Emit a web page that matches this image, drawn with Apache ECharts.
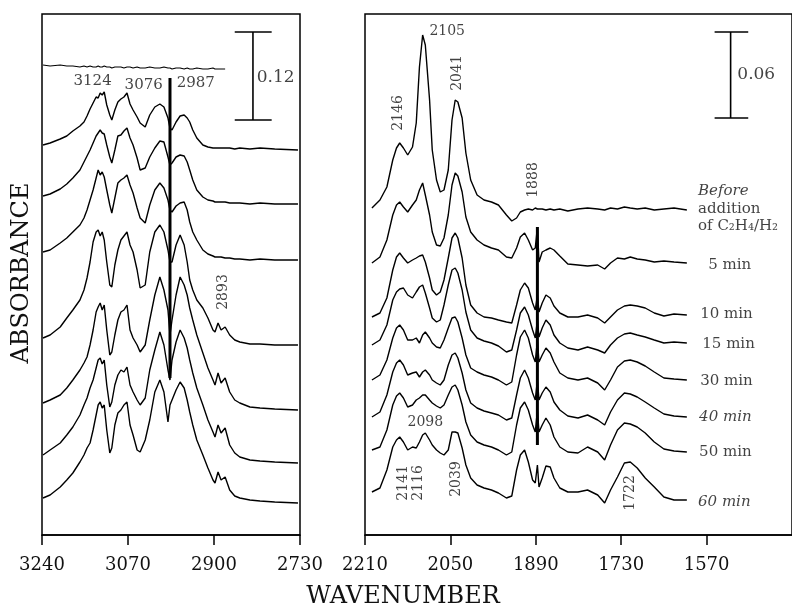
<!DOCTYPE html>
<html>
<head>
<meta charset="utf-8">
<script src="https://cdn.jsdelivr.net/npm/echarts@6/dist/echarts.min.js"></script>
<style>
html, body { margin: 0; padding: 0; background: #fff; }
#chart { width: 792px; height: 609px; }
</style>
</head>
<body>
<div id="chart"></div>
<script>
// C-H stretch region (left panel), cm-1
const wnLeft = [3238, 3224, 3204, 3191, 3179, 3165, 3157, 3151, 3145, 3139, 3133, 3129, 3125, 3121, 3117, 3112, 3106, 3102, 3096, 3090, 3084, 3078, 3072, 3066, 3060, 3052, 3046, 3036, 3027, 3017, 3007, 2999, 2991, 2987, 2983, 2975, 2967, 2959, 2953, 2948, 2942, 2934, 2922, 2912, 2902, 2898, 2892, 2886, 2878, 2869, 2859, 2849, 2829, 2809, 2780, 2734]

// absorbance, arbitrary units, stacked (0.12 = 88 units)
const leftBefore = [470, 469, 470, 469, 469, 468, 469, 468, 469, 468, 468, 469, 468, 468, 469, 468, 468, 467, 468, 468, 468, 467, 468, 468, 467, 468, 467, 467, 468, 467, 467, 468, 467, 467, 466, 467, 467, 466, 467, 466, 466, 467, 466, 466, 467, 466, 466, 466, 466, null, null, null, null, null, null, null]
const left5 = [390, 392, 396, 399, 404, 409, 413, 419, 426, 432, 438, 437, 442, 440, 443, 430, 420, 415, 425, 433, 436, 438, 442, 431, 425, 418, 412, 408, 420, 428, 431, 428, 417, 407, 405, 413, 419, 420, 417, 413, 405, 397, 390, 388, 387, 387, 387, 387, 387, 387, 386, 387, 386, 387, 386, 385]
const left10 = [339, 341, 346, 351, 357, 365, 373, 379, 385, 392, 399, 402, 405, 402, 401, 390, 378, 372, 385, 399, 400, 404, 407, 397, 390, 377, 365, 367, 378, 387, 394, 393, 378, 370, 372, 378, 380, 379, 373, 365, 355, 345, 338, 335, 334, 333, 333, 333, 333, 332, 332, 332, 331, 332, 331, 331]
const left15 = [283, 285, 292, 297, 303, 310, 317, 325, 335, 345, 357, 365, 360, 363, 358, 345, 330, 322, 337, 352, 355, 357, 360, 350, 342, 327, 317, 312, 330, 345, 352, 347, 335, 325, 323, 329, 332, 333, 325, 313, 303, 295, 285, 281, 279, 278, 278, 278, 277, 277, 276, 276, 275, 276, 275, 275]
const left30 = [197, 200, 208, 217, 225, 235, 245, 257, 273, 293, 303, 305, 299, 303, 295, 273, 250, 248, 270, 285, 295, 299, 303, 290, 283, 265, 247, 250, 283, 303, 310, 303, 285, 273, 273, 290, 300, 290, 273, 255, 245, 235, 227, 217, 205, 203, 212, 205, 208, 200, 195, 193, 191, 191, 190, 190]
const left40 = [132, 135, 140, 147, 155, 165, 172, 178, 190, 205, 223, 228, 232, 225, 230, 205, 180, 183, 200, 215, 223, 225, 230, 205, 197, 190, 183, 190, 215, 240, 258, 245, 225, 200, 215, 240, 258, 250, 240, 227, 215, 200, 182, 167, 155, 150, 162, 152, 157, 143, 135, 132, 128, 127, 126, 125]
const left50 = [80, 85, 92, 100, 108, 120, 130, 137, 147, 155, 167, 175, 177, 171, 175, 150, 128, 133, 150, 160, 165, 163, 168, 150, 143, 135, 130, 137, 165, 185, 203, 190, 165, 155, 175, 193, 205, 197, 187, 175, 162, 147, 130, 115, 103, 98, 110, 102, 107, 90, 82, 78, 75, 74, 73, 72]
const left60 = [37, 40, 48, 55, 62, 73, 80, 87, 92, 105, 120, 130, 133, 127, 130, 105, 82, 87, 110, 122, 125, 130, 133, 110, 100, 85, 83, 95, 115, 143, 155, 143, 113, 130, 135, 145, 153, 147, 135, 123, 110, 95, 80, 67, 55, 52, 63, 55, 58, 45, 39, 37, 35, 34, 33, 32]

// carbonyl region (right panel), cm-1  (0.06 = 86 units)
const wnRight = [2197, 2182, 2169, 2158, 2151, 2145, 2138, 2130, 2121, 2114, 2108, 2102, 2097, 2089, 2084, 2076, 2069, 2062, 2054, 2047, 2041, 2036, 2028, 2021, 2012, 2000, 1987, 1973, 1960, 1945, 1935, 1926, 1919, 1911, 1904, 1896, 1891, 1887, 1884, 1878, 1871, 1863, 1856, 1845, 1830, 1811, 1793, 1774, 1761, 1750, 1737, 1724, 1713, 1700, 1685, 1668, 1650, 1631, 1607]

const rightBefore = [327, 335, 348, 375, 387, 392, 387, 380, 388, 412, 468, 500, 490, 435, 385, 355, 343, 345, 365, 415, 435, 433, 417, 382, 355, 340, 335, 333, 330, 320, 314, 317, 323, 325, 326, 325, 327, 326, 325, 326, 325, 326, 325, 326, 324, 326, 327, 326, 325, 327, 326, 328, 327, 326, 327, 325, 326, 327, 325]
const right5 = [272, 278, 295, 320, 330, 333, 328, 323, 330, 335, 345, 352, 340, 320, 303, 290, 289, 297, 320, 350, 362, 359, 343, 318, 303, 295, 290, 287, 285, 278, 277, 287, 298, 302, 295, 285, 287, 308, 273, 283, 285, 287, 285, 279, 271, 270, 269, 270, 266, 272, 277, 276, 278, 276, 275, 273, 274, 273, 272]
const right10 = [218, 222, 237, 265, 278, 282, 277, 272, 275, 277, 279, 280, 273, 257, 245, 240, 243, 255, 277, 297, 302, 297, 277, 250, 230, 222, 218, 217, 215, 213, 212, 230, 245, 252, 247, 232, 225, 240, 223, 232, 240, 237, 229, 222, 218, 218, 220, 217, 212, 218, 225, 229, 230, 229, 227, 222, 219, 221, 220]
const right15 = [190, 195, 210, 235, 243, 246, 247, 240, 237, 243, 248, 250, 242, 227, 217, 213, 215, 230, 250, 265, 267, 262, 245, 223, 205, 197, 194, 192, 189, 183, 185, 205, 222, 228, 220, 205, 197, 215, 198, 207, 215, 210, 200, 192, 187, 185, 188, 185, 182, 190, 197, 201, 202, 200, 198, 195, 192, 193, 192]
const right30 = [155, 160, 175, 197, 207, 210, 205, 195, 195, 197, 192, 200, 203, 197, 192, 188, 187, 195, 207, 217, 218, 213, 197, 180, 167, 163, 160, 158, 155, 150, 153, 180, 198, 205, 197, 180, 173, 195, 173, 180, 187, 182, 173, 162, 157, 155, 157, 152, 145, 155, 168, 174, 175, 173, 169, 163, 157, 156, 155]
const right40 = [118, 123, 140, 163, 172, 175, 170, 160, 162, 163, 158, 163, 165, 160, 155, 152, 150, 155, 170, 180, 182, 177, 162, 145, 132, 127, 124, 122, 120, 115, 117, 140, 157, 165, 157, 142, 135, 155, 135, 142, 148, 143, 133, 125, 119, 117, 120, 115, 110, 123, 135, 142, 141, 138, 133, 127, 121, 119, 118]
const right50 = [85, 88, 105, 130, 139, 142, 137, 128, 130, 135, 137, 140, 140, 135, 132, 129, 127, 130, 140, 148, 150, 145, 130, 113, 100, 93, 90, 88, 85, 80, 83, 110, 127, 133, 125, 110, 103, 125, 103, 110, 117, 110, 98, 88, 83, 82, 88, 83, 75, 90, 105, 112, 111, 108, 102, 93, 86, 84, 83]
const right60 = [43, 47, 65, 88, 95, 98, 93, 85, 88, 87, 93, 100, 102, 95, 90, 85, 82, 80, 85, 103, 103, 102, 87, 70, 57, 50, 47, 45, 42, 37, 39, 65, 80, 85, 73, 55, 52, 70, 48, 57, 69, 68, 57, 47, 43, 43, 45, 40, 32, 45, 58, 72, 73, 67, 57, 48, 38, 35, 35]

const leftTicks = [3240, 3070, 2900, 2730]
const rightTicks = [2210, 2050, 1890, 1730, 1570]
const timeLabels = ['5 min', '10 min', '15 min', '30 min', '40 min', '50 min', '60 min']

const font = 'DejaVu Serif'
const ink = '#000'

const pairs = (wn, vals) => wn.map((w, i) => [w, vals[i]])

function spectrum(idx, wn, vals, width) {
	return {
		type: 'line',
		xAxisIndex: idx,
		yAxisIndex: idx,
		data: pairs(wn, vals),
		showSymbol: false,
		silent: true,
		lineStyle: { color: ink, width: width || 1.4 },
	}
}

function segment(idx, pts, width) {
	return {
		type: 'line',
		xAxisIndex: idx,
		yAxisIndex: idx,
		data: pts,
		showSymbol: false,
		silent: true,
		lineStyle: { color: ink, width: width },
	}
}

// text annotations, placed in data coordinates [wavenumber, units]
function notes(idx, list) {
	return {
		type: 'scatter',
		xAxisIndex: idx,
		yAxisIndex: idx,
		symbolSize: 1,
		silent: true,
		itemStyle: { color: 'rgba(0,0,0,0)' },
		data: list.map((n) => ({
			value: [n.x, n.y],
			label: {
				show: true,
				formatter: n.text,
				position: n.pos || 'inside',
				distance: 0,
				rotate: n.rotate || 0,
				fontFamily: font,
				fontSize: n.size || 14,
				fontStyle: n.italic ? 'italic' : 'normal',
				color: '#111',
			},
		})),
	}
}

const leftNotes = [
	{ x: 3140, y: 454, text: '3124', size: 15 },
	{ x: 3039, y: 450, text: '3076', size: 15 },
	{ x: 2936, y: 452, text: '2987', size: 15 },
	{ x: 2882, y: 243, text: '2893', rotate: 90 },
	{ x: 2778, y: 457, text: '0.12', size: 17 },
]

const rightTimeY = [270, 221, 191, 154, 118, 83, 33]
const rightTimeX = [1568, 1583, 1579, 1583, 1585, 1585, 1587]
const rightNotes = [
	{ x: 2056, y: 504, text: '2105' },
	{ x: 2147, y: 422, text: '2146', rotate: 90 },
	{ x: 2037, y: 462, text: '2041', rotate: 90 },
	{ x: 1895, y: 355, text: '1888', rotate: 90 },
	{ x: 1477, y: 460, text: '0.06', size: 17 },
	{ x: 1587, y: 344, text: 'Before', pos: 'right', italic: true, size: 15 },
	{ x: 1587, y: 326, text: 'addition', pos: 'right', size: 15 },
	{ x: 1587, y: 309, text: 'of C₂H₄/H₂', pos: 'right', size: 15 },
	{ x: 2097, y: 113, text: '2098' },
	{ x: 2138, y: 52, text: '2141', rotate: 90 },
	{ x: 2110, y: 52, text: '2116', rotate: 90 },
	{ x: 2039, y: 56, text: '2039', rotate: 90 },
	{ x: 1713, y: 42, text: '1722', rotate: 90 },
].concat(timeLabels.map((t, i) => ({
	x: rightTimeX[i], y: rightTimeY[i], text: t, pos: 'right', size: 15,
	italic: t === '40 min' || t === '60 min',
})))

const series = []
;[leftBefore, left5, left10, left15, left30, left40, left50, left60].forEach((s) => {
	series.push(spectrum(0, wnLeft, s, s === leftBefore ? 1.1 : 1.4))
})
;[rightBefore, right5, right10, right15, right30, right40, right50, right60].forEach((s) => {
	series.push(spectrum(1, wnRight, s))
})

// band markers and scale bars
series.push(segment(0, [[2987, 457], [2987, 157]], 3))
series.push(segment(1, [[1887, 308], [1887, 90]], 3))
series.push(segment(0, [[2823, 503], [2823, 415]], 1.6))
series.push(segment(0, [[2859, 503], [2786, 503]], 1.6))
series.push(segment(0, [[2859, 415], [2786, 415]], 1.6))
series.push(segment(1, [[1525, 503], [1525, 417]], 1.6))
series.push(segment(1, [[1555, 503], [1492, 503]], 1.6))
series.push(segment(1, [[1555, 417], [1492, 417]], 1.6))
series.push(notes(0, leftNotes))
series.push(notes(1, rightNotes))

function xAxis(idx, min, max, ticks) {
	return {
		gridIndex: idx,
		type: 'value',
		min: min,
		max: max,
		inverse: true,
		splitLine: { show: false },
		axisLine: { show: true, onZero: false, lineStyle: { color: ink, width: 1.5 } },
		axisTick: { show: true, length: 10, customValues: ticks, lineStyle: { color: ink, width: 1.5 } },
		axisLabel: {
			customValues: ticks,
			formatter: (v) => String(v),
			fontFamily: font,
			fontSize: 18,
			color: '#111',
			margin: 21,
		},
	}
}

const chart = echarts.init(document.getElementById('chart'), null, { renderer: 'canvas' })
chart.setOption({
	backgroundColor: '#fff',
	animation: false,
	grid: [
		{ left: 42, top: 14, width: 258, height: 521, show: true, borderColor: ink, borderWidth: 1.5 },
		{ left: 365, top: 14, width: 431, height: 521, show: true, borderColor: ink, borderWidth: 1.5 },
	],
	xAxis: [xAxis(0, 2730, 3240, leftTicks), xAxis(1, 1410, 2210, rightTicks)],
	yAxis: [
		{ gridIndex: 0, type: 'value', min: 0, max: 521, show: false },
		{ gridIndex: 1, type: 'value', min: 0, max: 521, show: false },
	],
	graphic: [
		{
			type: 'text', x: 22, y: 273, rotation: Math.PI / 2,
			style: { text: 'ABSORBANCE', fontFamily: font, fontSize: 24, fill: '#111', align: 'center', verticalAlign: 'middle' },
		},
		{
			type: 'text', x: 403, y: 597,
			style: { text: 'WAVENUMBER', fontFamily: font, fontSize: 24, fill: '#111', align: 'center', verticalAlign: 'middle' },
		},
	],
	series: series,
})
</script>
</body>
</html>
